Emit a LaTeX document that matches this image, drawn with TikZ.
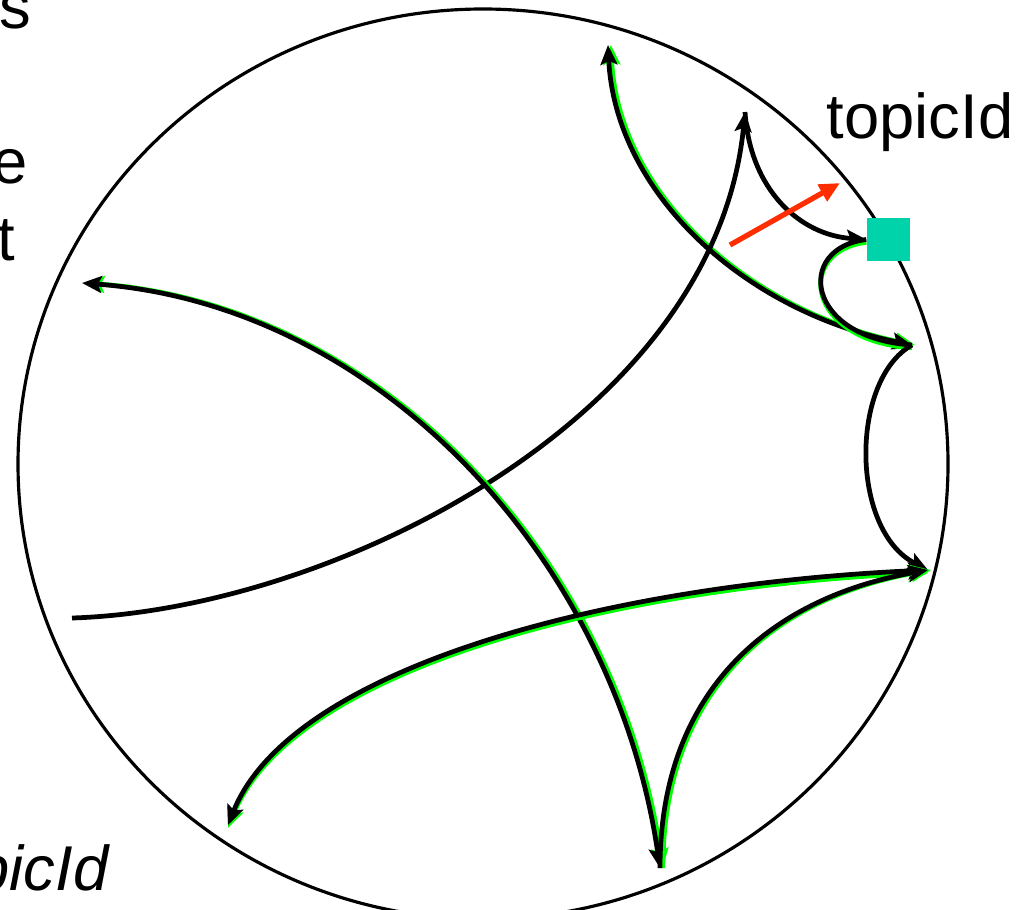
\documentclass[tikz,border=0pt]{standalone}
\usepackage{fontspec}
\setmainfont{Liberation Sans}
\usetikzlibrary{arrows.meta}
\definecolor{sqteal}{RGB}{0,210,170}
\definecolor{redarrow}{RGB}{255,45,0}
\definecolor{lgreen}{RGB}{0,255,0}
\begin{document}
\begin{tikzpicture}[x=0.01cm,y=-0.01cm,
  geo/.style={line width=1.35pt, black},
  tipend/.style={-{Stealth[length=5.6pt,width=4.8pt,inset=1.1pt]}},
  tipboth/.style={{Stealth[length=5.6pt,width=4.8pt,inset=1.1pt]}-{Stealth[length=5.6pt,width=4.8pt,inset=1.1pt]}},
  tipstart/.style={{Stealth[length=5.6pt,width=4.8pt,inset=1.1pt]}-},
  gx/.style={preaction={draw=lgreen, line width=1.35pt, transform canvas={xshift=0.8pt}}},
  gy/.style={preaction={draw=lgreen, line width=1.35pt, transform canvas={yshift=-0.8pt}}},
  lbl/.style={inner sep=0pt, font=\fontsize{18}{21.6}\selectfont}
]
\useasboundingbox (0,0) rectangle (1022,909);
\clip (0,0) rectangle (1022,909);

% disk
\draw[line width=0.9pt] (483,464) ellipse [x radius=465, y radius=455];

% labels
\node[lbl, anchor=base east] (ts) at (32,28) {s};
\node[lbl, anchor=base east] (te) at (28,183) {e};
\node[lbl, anchor=base east] (tt) at (16,260) {t};
\node[lbl, anchor=base west] (tr) at (826,138) {topicId};
\node[lbl, anchor=base east, font=\fontsize{18}{21.6}\selectfont\itshape] (tb) at (109,890) {topicId};

% square
\node[fill=sqteal, minimum width=43*0.01cm, minimum height=43*0.01cm, inner sep=0pt] (sq) at (888.5,239.5) {};

% end points
\coordinate (a1) at (608,45);
\coordinate (p3) at (912,345);
\coordinate (apex) at (745,112);
\coordinate (p5) at (928,570);
\coordinate (cl) at (72,618);
\coordinate (fl) at (82,283);
\coordinate (fb) at (660,868);
\coordinate (gl) at (228,825);
\coordinate (r1) at (730,245);
\coordinate (r2) at (840,183);

% geodesics
\draw[geo, gx, tipboth] (a1) .. controls (615,190) and (740,310) .. (p3);
\draw[geo, tipend] (apex) .. controls (750,190) and (800,235) .. (sq.west);
\draw[geo, tipend] (cl) .. controls (330,610) and (715,420) .. (apex);
\draw[geo, gy] (sq.west) .. controls (795,248) and (805,338) .. (p3);
\draw[geo, tipend] (p3) .. controls (850,380) and (850,530) .. (p5);
\draw[geo, gx, tipboth] (fl) .. controls (380,305) and (615,560) .. (fb);
\draw[geo, gy, tipboth] (p5) .. controls (600,585) and (290,670) .. (gl);
\draw[geo, gx, tipstart] (p5) .. controls (760,600) and (660,700) .. (fb);

% red arrow
\draw[line width=1.5pt, redarrow, -{Triangle[length=5.8pt,width=5.2pt]}] (r1) -- (r2);
\end{tikzpicture}
\end{document}
